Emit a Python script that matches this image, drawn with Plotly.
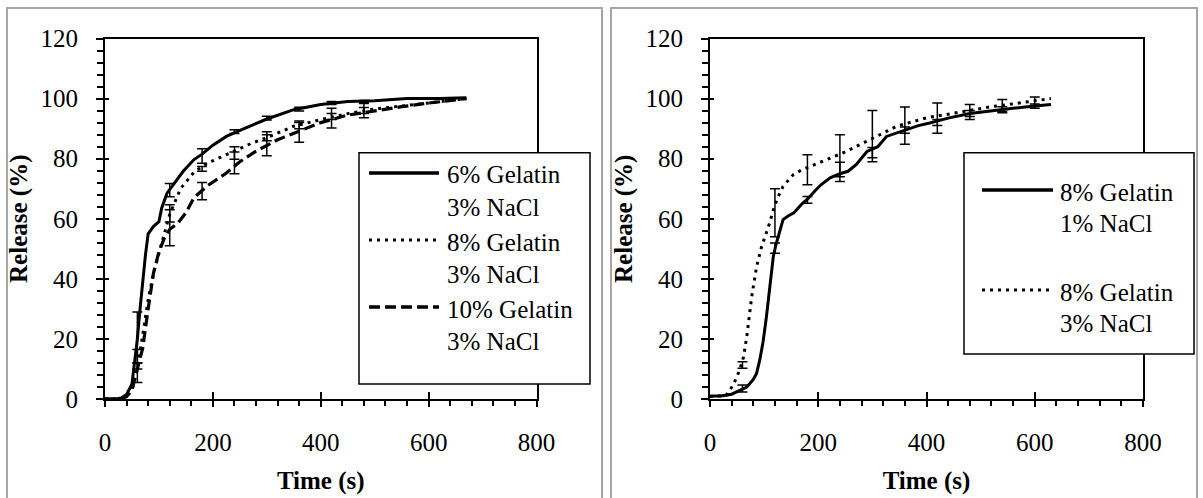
import plotly.graph_objects as go

W, H = 1203, 498

# ---------------- data: left panel (3% NaCl, varying gelatin) ----------------
t_g6 = [0, 20, 30, 40, 50, 55, 60, 65, 70, 75, 80, 90, 100, 105, 115, 130, 145, 165, 180, 200, 225, 260, 300, 350, 400, 450, 500, 560, 620, 670]
r_g6 = [0, 0, 0.3, 1.5, 5, 12, 20, 30, 40, 48, 55, 57.5, 59, 63.5, 68.5, 72, 75.8, 79.7, 81.5, 84.5, 87.4, 90.2, 93.2, 96.3, 98, 99, 99.3, 100, 100, 100.3]

t_g8 = [0, 30, 40, 50, 60, 70, 80, 90, 100, 110, 120, 140, 165, 190, 215, 240, 270, 300, 350, 400, 450, 500, 550, 600, 650, 670]
r_g8 = [0, 0, 0.8, 3, 10, 21, 33, 42, 49, 55, 61.5, 70, 75.5, 78.5, 80.5, 82.5, 85, 87, 90.8, 93, 95, 96.5, 97.5, 98.5, 99.5, 100]

t_g10 = [0, 30, 40, 50, 60, 70, 80, 90, 100, 110, 120, 135, 150, 165, 190, 225, 250, 280, 320, 360, 400, 450, 500, 550, 600, 650, 670]
r_g10 = [0, 0, 0.8, 3, 10, 17, 30, 42, 49, 53.5, 56.5, 58.5, 62, 67, 71, 75.2, 79, 82.5, 86.3, 89.1, 92, 94.5, 96, 97.3, 98.5, 99.5, 100]

err_t_left = [60, 120, 180, 240, 300, 360, 420, 480]
err_g6_mean = [20.5, 69.5, 80.9, 89, 93.5, 96.5, 98.5, 99]
err_g6_sd = [8.5, 2.2, 2.4, 0.6, 0.6, 0.6, 0.5, 0.4]
err_g8_mean = [11, 61.8, 76.6, 81, 87, 91, 94, 96]
err_g8_sd = [5.5, 2.9, 0.8, 1.2, 1.0, 1.0, 1.0, 1.0]
err_g10_mean = [11, 57, 69.2, 79.5, 85, 89, 93.5, 96]
err_g10_sd = [1, 6, 2.9, 4.5, 4, 3.5, 3.3, 2.4]

# ---------------- data: right panel (8% gelatin, varying NaCl) ----------------
t_n1 = [0, 20, 40, 55, 68, 80, 86, 92, 98, 104, 110, 117, 122, 128, 135, 145, 155, 170, 180, 195, 205, 222, 240, 255, 270, 290, 310, 326, 345, 363, 385, 406, 440, 480, 520, 560, 600, 630]
r_n1 = [1, 1, 1.6, 2.8, 4, 6.5, 8.5, 13, 19, 27, 36, 47.5, 51.5, 55, 59.7, 61, 62, 65, 66.5, 69.5, 71.3, 73.6, 75, 75.8, 78, 82.4, 84, 87.4, 88.5, 89.7, 91, 91.9, 93.5, 95, 96, 96.8, 97.5, 98]

t_n3 = [0, 30, 43, 55, 62, 68, 77, 86, 95, 102, 110, 117, 125, 135, 145, 154, 170, 185, 200, 215, 235, 252, 275, 296, 320, 345, 370, 400, 430, 460, 490, 520, 550, 580, 610, 630]
r_n3 = [0.8, 1.2, 4.7, 9.7, 14, 20.8, 34, 44, 50.5, 54, 58.5, 63, 67, 70.8, 73, 74.7, 76.3, 77.4, 78.5, 79.7, 81, 82.4, 84.5, 86.3, 88.5, 90.8, 92, 93.6, 94.5, 95.5, 96.5, 97.3, 98, 98.8, 99.5, 100]

err_t_right = [60, 120, 180, 240, 300, 360, 420, 480, 540, 600]
err_n1_mean = [3.5, 50.2, 66.3, 75.6, 82, 89.5, 92, 95, 96.5, 97.5]
err_n1_sd = [1.2, 1.7, 1.1, 3.2, 1.7, 1.0, 1.0, 1.0, 0.8, 0.7]
err_n3_mean = [11.3, 62, 76.3, 81, 87.5, 91, 93.5, 95.5, 97.5, 99]
err_n3_sd = [1.1, 8, 5, 7, 8.5, 6.2, 5, 2.5, 2.2, 1.5]

x_range = [0, 800]
y_range = [0, 120]
x_title = "Time (s)"
y_title = "Release (%)"

left_legend = [("6% Gelatin", "3% NaCl", "solid"),
               ("8% Gelatin", "3% NaCl", "dot"),
               ("10% Gelatin", "3% NaCl", "dash")]
right_legend = [("8% Gelatin", "1% NaCl", "solid"),
                ("8% Gelatin", "3% NaCl", "dot")]

# ---------------- styling ----------------
FONT = "'Liberation Serif', 'Times New Roman', 'DejaVu Serif', serif"
FS = 25
DOT = "3px,5px"
DASH = "11px,5px"
dash_map = {"solid": "solid", "dot": DOT, "dash": DASH}


def px(x):
    return x / W


def py(y):
    return 1 - y / H


fig = go.Figure()


def add_curve(t, r, xa, ya, dash, width=3):
    fig.add_trace(go.Scatter(x=t, y=r, xaxis=xa, yaxis=ya, mode="lines",
                             line=dict(color="black", width=width, dash=dash_map[dash]),
                             hoverinfo="skip", showlegend=False))


def add_err(t, m, s, xa, ya):
    fig.add_trace(go.Scatter(x=t, y=m, xaxis=xa, yaxis=ya, mode="markers",
                             marker=dict(size=1, color="rgba(0,0,0,0)"),
                             error_y=dict(type="data", array=s, visible=True,
                                          color="black", thickness=1.5, width=5),
                             hoverinfo="skip", showlegend=False))


add_curve(t_g6, r_g6, "x", "y", "solid")
add_curve(t_g8, r_g8, "x", "y", "dot")
add_curve(t_g10, r_g10, "x", "y", "dash", 3.2)
add_err(err_t_left, err_g6_mean, err_g6_sd, "x", "y")
add_err(err_t_left, err_g8_mean, err_g8_sd, "x", "y")
add_err(err_t_left, err_g10_mean, err_g10_sd, "x", "y")

add_curve(t_n1, r_n1, "x2", "y2", "solid")
add_curve(t_n3, r_n3, "x2", "y2", "dot")
add_err(err_t_right, err_n1_mean, err_n1_sd, "x2", "y2")
add_err(err_t_right, err_n3_mean, err_n3_sd, "x2", "y2")

# invisible traces to realise the overlay (inner-tick) axes
for xa, ya in (("x3", "y3"), ("x4", "y4")):
    fig.add_trace(go.Scatter(x=[None], y=[None], xaxis=xa, yaxis=ya, mode="markers",
                             hoverinfo="skip", showlegend=False))

ydom = [py(399), py(38.5)]
xdom_l = [px(105), px(536.5)]
xdom_r = [px(710), px(1143)]

tickfont = dict(family=FONT, size=FS, color="black")
titlefont = dict(family=FONT, size=FS, color="black", weight="bold")


def main_x(dom, anchor):
    return dict(domain=dom, anchor=anchor, range=x_range, dtick=200, tick0=0,
                showgrid=False, zeroline=False, showline=True, linecolor="black",
                linewidth=2, mirror=True, ticks="outside", ticklen=6, tickwidth=1.5,
                tickcolor="black", tickfont=tickfont, ticklabelstandoff=14,
                minor=dict(dtick=40, tick0=0, ticks="outside", ticklen=5, tickwidth=1.5,
                           tickcolor="black", showgrid=False),
                title=dict(text=x_title, font=titlefont, standoff=16))


def main_y(dom, anchor):
    return dict(domain=dom, anchor=anchor, range=y_range, dtick=20, tick0=0,
                showgrid=False, zeroline=False, showline=True, linecolor="black",
                linewidth=2, mirror=True, ticks="outside", ticklen=7, tickwidth=1.5,
                tickcolor="black", tickfont=tickfont, ticklabelstandoff=13,
                minor=dict(dtick=4, tick0=0, ticks="outside", ticklen=6, tickwidth=1.5,
                           tickcolor="black", showgrid=False),
                title=dict(text=y_title, font=titlefont, standoff=6))


def over_x(dom, over, anchor):
    return dict(domain=dom, overlaying=over, anchor=anchor, range=x_range, dtick=200,
                tick0=0, showgrid=False, zeroline=False, showline=False, side="bottom",
                ticks="inside", ticklen=7, tickwidth=1.5, tickcolor="black",
                showticklabels=False)


def over_y(dom, over, anchor):
    return dict(domain=dom, overlaying=over, anchor=anchor, range=y_range, dtick=20,
                tick0=0, showgrid=False, zeroline=False, showline=False, side="left",
                ticks="inside", ticklen=4, tickwidth=1.5, tickcolor="black",
                showticklabels=False)


shapes = []
# outer gray panel frames
for x0, x1 in ((7, 602), (611, 1197)):
    shapes.append(dict(type="rect", xref="paper", yref="paper",
                       x0=px(x0), x1=px(x1), y0=py(520), y1=py(8),
                       line=dict(color="#a6a6a6", width=2), layer="below"))

annotations = []


def legend_box(x0, x1, y0, y1, entries, line_x0, line_x1, text_x, first_y, line_gap, entry_gap):
    shapes.append(dict(type="rect", xref="paper", yref="paper",
                       x0=px(x0), x1=px(x1), y0=py(y1), y1=py(y0),
                       line=dict(color="black", width=1.5), fillcolor="white", layer="above"))
    y = first_y
    for l1, l2, dash in entries:
        shapes.append(dict(type="line", xref="paper", yref="paper",
                           x0=px(line_x0), x1=px(line_x1), y0=py(y - 2), y1=py(y - 2),
                           line=dict(color="black", width=3.5 if dash != "dot" else 3,
                                     dash=dash_map[dash]), layer="above"))
        for k, txt in enumerate((l1, l2)):
            annotations.append(dict(xref="paper", yref="paper", x=px(text_x),
                                    y=py(y + k * line_gap), text=txt, showarrow=False,
                                    xanchor="left", yanchor="middle",
                                    font=dict(family=FONT, size=FS, color="black")))
        y += entry_gap


legend_box(359, 590, 152.7, 384, left_legend, 369, 439, 445, 175, 32, 67)
legend_box(964, 1194, 152.7, 354, right_legend, 982, 1053, 1058, 192, 31.5, 100)

fig.update_layout(
    width=W, height=H, template="none",
    margin=dict(l=0, r=0, t=0, b=0),
    paper_bgcolor="white", plot_bgcolor="white",
    showlegend=False,
    font=dict(family=FONT),
    xaxis=main_x(xdom_l, "y"), yaxis=main_y(ydom, "x"),
    xaxis2=main_x(xdom_r, "y2"), yaxis2=main_y(ydom, "x2"),
    xaxis3=over_x(xdom_l, "x", "y"), yaxis3=over_y(ydom, "y", "x"),
    xaxis4=over_x(xdom_r, "x2", "y2"), yaxis4=over_y(ydom, "y2", "x2"),
    shapes=shapes, annotations=annotations,
)

fig.write_html("out.html")
